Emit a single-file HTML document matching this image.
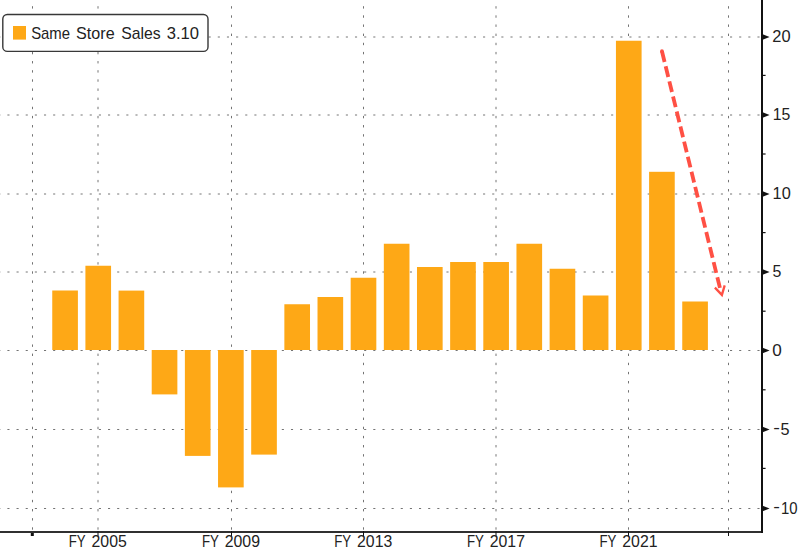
<!DOCTYPE html>
<html><head><meta charset="utf-8"><style>
html,body{margin:0;padding:0;background:#fff;}
svg{display:block;}
text{font-family:"Liberation Sans",sans-serif;font-size:17px;fill:#222;}
</style></head><body>
<svg width="800" height="553" viewBox="0 0 800 553">
<rect width="800" height="553" fill="#fff"/>
<g stroke="#747474" stroke-width="1" stroke-dasharray="2.1 7.047" stroke-dashoffset="1.75">
<line x1="0" y1="37.0" x2="761" y2="37.0"/><line x1="0" y1="115.0" x2="761" y2="115.0"/><line x1="0" y1="194.0" x2="761" y2="194.0"/><line x1="0" y1="272.0" x2="761" y2="272.0"/><line x1="0" y1="350.5" x2="761" y2="350.5"/><line x1="0" y1="429.5" x2="761" y2="429.5"/><line x1="0" y1="508.5" x2="761" y2="508.5"/>
</g>
<g stroke="#747474" stroke-width="1" stroke-dasharray="2.4 6.742" stroke-dashoffset="-6.2">
<line x1="32.5" y1="0" x2="32.5" y2="531"/><line x1="98.0" y1="0" x2="98.0" y2="531"/><line x1="231.5" y1="0" x2="231.5" y2="531"/><line x1="363.5" y1="0" x2="363.5" y2="531"/><line x1="496.0" y1="0" x2="496.0" y2="531"/><line x1="628.5" y1="0" x2="628.5" y2="531"/><line x1="728.5" y1="0" x2="728.5" y2="531"/>
</g>
<g fill="#fea816">
<rect x="52.25" y="290.50" width="25.65" height="59.50"/><rect x="85.41" y="265.75" width="25.65" height="84.25"/><rect x="118.57" y="290.60" width="25.65" height="59.40"/><rect x="151.72" y="350.00" width="25.65" height="44.40"/><rect x="184.88" y="350.00" width="25.65" height="105.90"/><rect x="218.04" y="350.00" width="25.65" height="137.40"/><rect x="251.20" y="350.00" width="25.65" height="104.60"/><rect x="284.36" y="304.25" width="25.65" height="45.75"/><rect x="317.51" y="297.00" width="25.65" height="53.00"/><rect x="350.67" y="277.75" width="25.65" height="72.25"/><rect x="383.83" y="243.75" width="25.65" height="106.25"/><rect x="416.99" y="267.00" width="25.65" height="83.00"/><rect x="450.15" y="262.00" width="25.65" height="88.00"/><rect x="483.30" y="262.00" width="25.65" height="88.00"/><rect x="516.46" y="243.75" width="25.65" height="106.25"/><rect x="549.62" y="268.75" width="25.65" height="81.25"/><rect x="582.78" y="295.50" width="25.65" height="54.50"/><rect x="615.94" y="40.75" width="25.65" height="309.25"/><rect x="649.09" y="171.80" width="25.65" height="178.20"/><rect x="682.25" y="301.50" width="25.65" height="48.50"/>
</g>
<g stroke="#ff5044" stroke-width="3.8" fill="none">
<path d="M661.96 51.25 L719.97 288" stroke-dasharray="11 4.51"/>
<path d="M714.9 287.6 L721.9 294.9 L724.7 285.4" stroke-width="2.3" stroke-linejoin="miter"/>
</g>
<circle cx="661.96" cy="51.25" r="1.9" fill="#ff5044"/>
<g stroke="#111111" stroke-width="2">
<line x1="0" y1="532" x2="763" y2="532" stroke="#303030"/>
<line x1="762" y1="0" x2="762" y2="533"/>
<line x1="762" y1="75.4" x2="765.6" y2="75.4" stroke-width="1.2"/><line x1="762" y1="154.0" x2="765.6" y2="154.0" stroke-width="1.2"/><line x1="762" y1="232.6" x2="765.6" y2="232.6" stroke-width="1.2"/><line x1="762" y1="311.2" x2="765.6" y2="311.2" stroke-width="1.2"/><line x1="762" y1="389.8" x2="765.6" y2="389.8" stroke-width="1.2"/><line x1="762" y1="468.4" x2="765.6" y2="468.4" stroke-width="1.2"/>
</g>
<g stroke="#111111" stroke-width="1">
<line x1="98.0" y1="531" x2="98.0" y2="536"/><line x1="231.5" y1="531" x2="231.5" y2="536"/><line x1="363.5" y1="531" x2="363.5" y2="536"/><line x1="496.0" y1="531" x2="496.0" y2="536"/><line x1="628.5" y1="531" x2="628.5" y2="536"/><line x1="728.5" y1="531" x2="728.5" y2="536"/>
</g>
<rect x="30.8" y="533" width="3" height="3" fill="#111111"/>
<g fill="#111111">
<path d="M762 34.0 L769.6 37.0 L762 40.0 Z"/><path d="M762 112.0 L769.6 115.0 L762 118.0 Z"/><path d="M762 191.0 L769.6 194.0 L762 197.0 Z"/><path d="M762 269.0 L769.6 272.0 L762 275.0 Z"/><path d="M762 347.5 L769.6 350.5 L762 353.5 Z"/><path d="M762 426.5 L769.6 429.5 L762 432.5 Z"/><path d="M762 505.5 L769.6 508.5 L762 511.5 Z"/>
</g>
<g>
<text x="772.28" y="42.0" textLength="18.27" lengthAdjust="spacingAndGlyphs">20</text><text x="772.64" y="120.0" textLength="17.59" lengthAdjust="spacingAndGlyphs">15</text><text x="772.60" y="199.0" textLength="18.14" lengthAdjust="spacingAndGlyphs">10</text><text x="772.55" y="277.0" textLength="8.88" lengthAdjust="spacingAndGlyphs">5</text><text x="772.30" y="355.5" textLength="9.53" lengthAdjust="spacingAndGlyphs">0</text><text x="773.22" y="433.3" textLength="6.67" lengthAdjust="spacingAndGlyphs">-</text><text x="780.38" y="434.5" textLength="9.05" lengthAdjust="spacingAndGlyphs">5</text><text x="773.22" y="512.3" textLength="6.67" lengthAdjust="spacingAndGlyphs">-</text><text x="781.00" y="513.5" textLength="16.58" lengthAdjust="spacingAndGlyphs">10</text>
<text x="68.73" y="547.3" textLength="16.95" lengthAdjust="spacingAndGlyphs" style="font-size:17.2px">FY</text><text x="91.50" y="547.3" textLength="35.27" lengthAdjust="spacingAndGlyphs" style="font-size:17.2px">2005</text><text x="201.93" y="547.3" textLength="16.95" lengthAdjust="spacingAndGlyphs" style="font-size:17.2px">FY</text><text x="224.70" y="547.3" textLength="35.27" lengthAdjust="spacingAndGlyphs" style="font-size:17.2px">2009</text><text x="334.23" y="547.3" textLength="16.95" lengthAdjust="spacingAndGlyphs" style="font-size:17.2px">FY</text><text x="357.00" y="547.3" textLength="35.27" lengthAdjust="spacingAndGlyphs" style="font-size:17.2px">2013</text><text x="466.93" y="547.3" textLength="16.95" lengthAdjust="spacingAndGlyphs" style="font-size:17.2px">FY</text><text x="489.70" y="547.3" textLength="35.27" lengthAdjust="spacingAndGlyphs" style="font-size:17.2px">2017</text><text x="599.53" y="547.3" textLength="16.95" lengthAdjust="spacingAndGlyphs" style="font-size:17.2px">FY</text><text x="622.30" y="547.3" textLength="35.27" lengthAdjust="spacingAndGlyphs" style="font-size:17.2px">2021</text>
</g>
<rect x="2.8" y="14.5" width="205.2" height="36.9" rx="4.5" fill="#fff" stroke="#383838" stroke-width="1.4"/>
<rect x="13" y="26" width="13" height="13.6" fill="#fea816"/>
<text x="31.14" y="38.9" textLength="38.95" lengthAdjust="spacingAndGlyphs">Same</text><text x="76.09" y="38.9" textLength="38.52" lengthAdjust="spacingAndGlyphs">Store</text><text x="121.30" y="38.9" textLength="39.42" lengthAdjust="spacingAndGlyphs">Sales</text><text x="166.77" y="38.9" textLength="32.31" lengthAdjust="spacingAndGlyphs">3.10</text>
</svg>
</body></html>
